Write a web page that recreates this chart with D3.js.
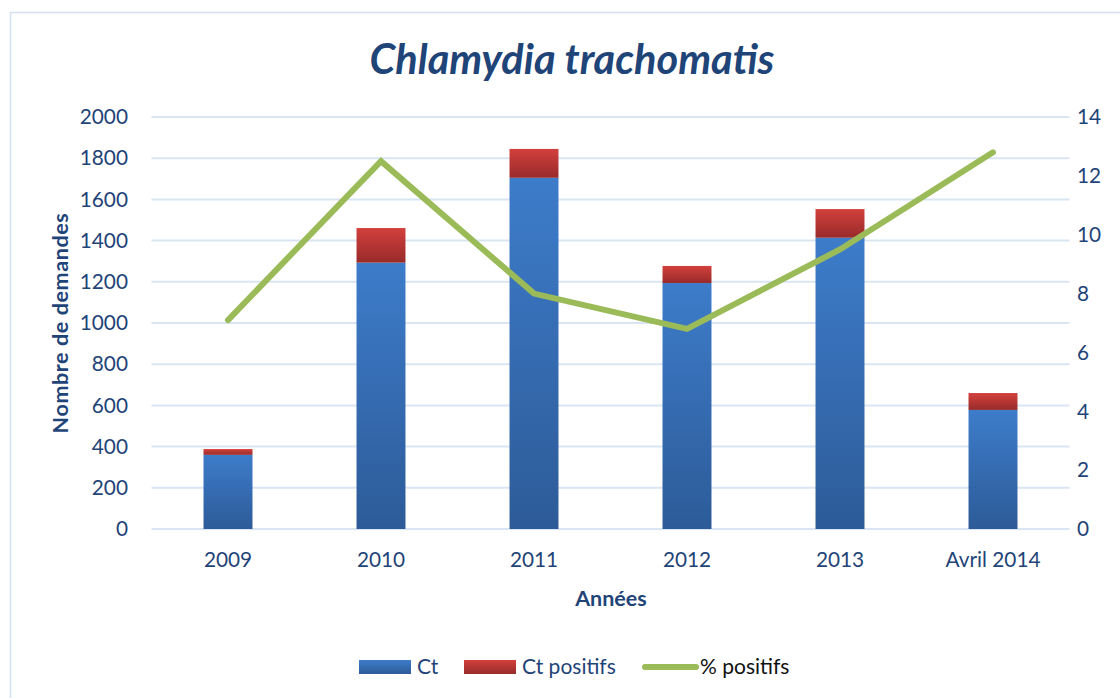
<!DOCTYPE html>
<html>
<head>
<meta charset="utf-8">
<script src="https://cdn.jsdelivr.net/npm/d3@7"></script>
<style>
  body { margin: 0; background: #fff; }
  text { font-family: Lato, "Open Sans", sans-serif; }
</style>
</head>
<body>
<div id="chart"></div>
<script>
// data
const years = ["2009", "2010", "2011", "2012", "2013", "Avril 2014"];
const ct = [360, 1293, 1705, 1194, 1414, 578];
const ctPositifs = [28, 168, 140, 83, 139, 82];
const pctPositifs = [7.1, 12.5, 8.0, 6.8, 9.5, 12.8];
const leftTicks = [0, 200, 400, 600, 800, 1000, 1200, 1400, 1600, 1800, 2000];
const rightTicks = [0, 2, 4, 6, 8, 10, 12, 14];

const width = 1120, height = 698;
const textColor = "#1F4478";
const tickSize = 20.8;

const svg = d3.select("#chart").append("svg")
    .attr("width", width)
    .attr("height", height);

const defs = svg.append("defs");
const blueGrad = defs.append("linearGradient").attr("id", "blueGrad")
    .attr("x1", 0).attr("y1", 0).attr("x2", 0).attr("y2", 1);
blueGrad.append("stop").attr("offset", "0%").attr("stop-color", "#3D7CCA");
blueGrad.append("stop").attr("offset", "100%").attr("stop-color", "#2D5B98");
const redGrad = defs.append("linearGradient").attr("id", "redGrad")
    .attr("x1", 0).attr("y1", 0).attr("x2", 0).attr("y2", 1);
redGrad.append("stop").attr("offset", "0%").attr("stop-color", "#D2403C");
redGrad.append("stop").attr("offset", "100%").attr("stop-color", "#982B2A");

// chart frame
svg.append("rect")
    .attr("x", 10.5).attr("y", 12.5)
    .attr("width", 1120).attr("height", 700)
    .attr("fill", "none")
    .attr("stroke", "#D3E1F2")
    .attr("stroke-width", 1.5);

const x = d3.scaleBand().domain(years).range([151.5, 1069.5]).paddingInner(0.68).paddingOuter(0.34);
const y = d3.scaleLinear().domain([0, 2000]).range([529, 117]);
const y2 = d3.scaleLinear().domain([0, 14]).range([529, 117]);

// gridlines
svg.append("g")
    .selectAll("line")
    .data(leftTicks)
    .join("line")
    .attr("x1", 151.5).attr("x2", 1069.5)
    .attr("y1", d => y(d)).attr("y2", d => y(d))
    .attr("stroke", "#DAE5F4")
    .attr("stroke-width", 2);

// left axis labels
svg.append("g")
    .selectAll("text")
    .data(leftTicks)
    .join("text")
    .attr("x", 128)
    .attr("y", d => y(d))
    .attr("dy", "0.35em")
    .attr("text-anchor", "end")
    .attr("font-size", tickSize)
    .attr("fill", textColor)
    .text(d => d);

// right axis labels
svg.append("g")
    .selectAll("text")
    .data(rightTicks)
    .join("text")
    .attr("x", 1077)
    .attr("y", d => y2(d))
    .attr("dy", "0.35em")
    .attr("text-anchor", "start")
    .attr("font-size", tickSize)
    .attr("fill", textColor)
    .text(d => d);

// x labels
svg.append("g")
    .selectAll("text")
    .data(years)
    .join("text")
    .attr("x", d => x(d) + x.bandwidth() / 2)
    .attr("y", 560)
    .attr("dy", "0.35em")
    .attr("text-anchor", "middle")
    .attr("font-size", tickSize)
    .attr("fill", textColor)
    .text(d => d);

// stacked bars
const bars = svg.append("g");
bars.selectAll(".ct")
    .data(years)
    .join("rect")
    .attr("class", "ct")
    .attr("x", d => x(d))
    .attr("width", x.bandwidth())
    .attr("y", (d, i) => y(ct[i]))
    .attr("height", (d, i) => y(0) - y(ct[i]))
    .attr("fill", "url(#blueGrad)");
bars.selectAll(".pos")
    .data(years)
    .join("rect")
    .attr("class", "pos")
    .attr("x", d => x(d))
    .attr("width", x.bandwidth())
    .attr("y", (d, i) => y(ct[i] + ctPositifs[i]))
    .attr("height", (d, i) => y(ct[i]) - y(ct[i] + ctPositifs[i]))
    .attr("fill", "url(#redGrad)");

// % line
const line = d3.line()
    .x((d, i) => x(years[i]) + x.bandwidth() / 2)
    .y(d => y2(d));
svg.append("path")
    .datum(pctPositifs)
    .attr("d", line)
    .attr("fill", "none")
    .attr("stroke", "#9BBB59")
    .attr("stroke-width", 6)
    .attr("stroke-linecap", "round")
    .attr("stroke-linejoin", "miter");

// titles
svg.append("text")
    .attr("x", 572).attr("y", 74)
    .attr("text-anchor", "middle")
    .attr("font-size", 41.5)
    .attr("font-weight", "bold")
    .attr("font-style", "italic")
    .attr("fill", textColor)
    .text("Chlamydia trachomatis");

svg.append("text")
    .attr("x", 611).attr("y", 598)
    .attr("dy", "0.35em")
    .attr("text-anchor", "middle")
    .attr("font-size", 21.5)
    .attr("font-weight", "bold")
    .attr("fill", textColor)
    .text("Années");

svg.append("text")
    .attr("transform", "translate(60,323) rotate(-90)")
    .attr("dy", "0.35em")
    .attr("text-anchor", "middle")
    .attr("font-size", 21.5)
    .attr("font-weight", "bold")
    .attr("letter-spacing", 0.6)
    .attr("fill", textColor)
    .text("Nombre de demandes");

// legend
const legend = svg.append("g");
legend.append("rect").attr("x", 359).attr("y", 660).attr("width", 52).attr("height", 14).attr("fill", "url(#blueGrad)");
legend.append("text").attr("x", 417).attr("y", 667).attr("dy", "0.35em")
    .attr("font-size", 21).attr("fill", textColor).text("Ct");
legend.append("rect").attr("x", 464).attr("y", 660).attr("width", 52).attr("height", 14).attr("fill", "url(#redGrad)");
legend.append("text").attr("x", 522).attr("y", 667).attr("dy", "0.35em")
    .attr("font-size", 21).attr("fill", textColor).text("Ct positifs");
legend.append("line").attr("x1", 645).attr("x2", 696).attr("y1", 667).attr("y2", 667)
    .attr("stroke", "#9BBB59").attr("stroke-width", 6).attr("stroke-linecap", "round");
legend.append("text").attr("x", 700).attr("y", 667).attr("dy", "0.35em")
    .attr("font-size", 21).attr("fill", "#111").text("% positifs");
</script>
</body>
</html>
